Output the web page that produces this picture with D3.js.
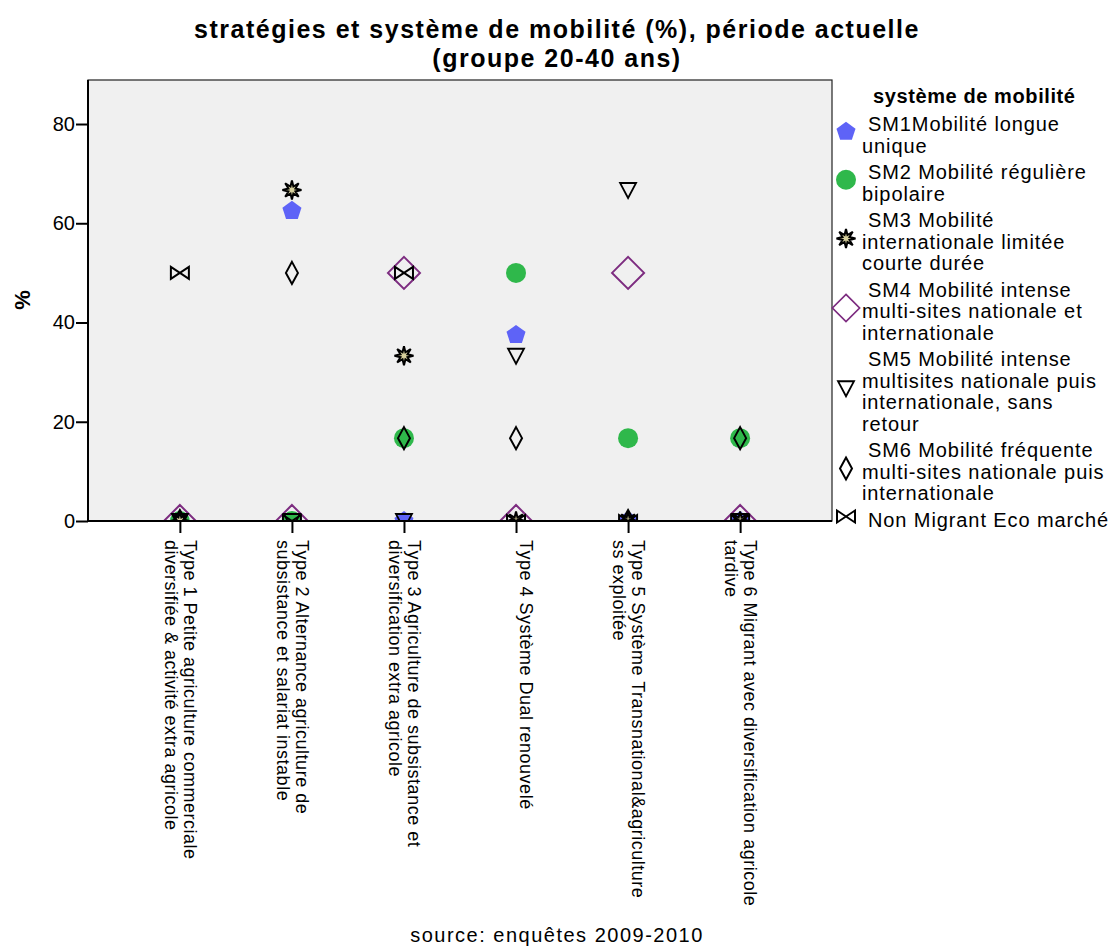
<!DOCTYPE html>
<html><head><meta charset="utf-8">
<script src="https://cdn.jsdelivr.net/npm/d3@7"></script>
<style>
body{margin:0;background:#fff}
text{font-family:"Liberation Sans",Arial,sans-serif;fill:#000}
</style>
</head><body>
<svg id="chart" width="1112" height="946"></svg>
<script>
// ---------- data ----------
const categories = ["Type1","Type2","Type3","Type4","Type5","Type6"];
const categoryLabels = [
  ["Type 1 Petite agriculture commerciale","diversifiée & activité extra agricole"],
  ["Type 2 Alternance agriculture de","subsistance et salariat instable"],
  ["Type 3 Agriculture de subsistance et","diversification extra agricole"],
  ["Type 4 Système Dual renouvelé"],
  ["Type 5 Système Transnational&agriculture","ss exploitée"],
  ["Type 6 Migrant avec diversification agricole","tardive"]
];
const seriesKeys = ["SM1","SM2","SM3","SM4","SM5","SM6","NM"];
const seriesLabels = [
  ["SM1Mobilité longue","unique"],
  ["SM2 Mobilité régulière","bipolaire"],
  ["SM3 Mobilité","internationale limitée","courte durée"],
  ["SM4 Mobilité intense","multi-sites nationale et","internationale"],
  ["SM5 Mobilité intense","multisites nationale puis","internationale, sans","retour"],
  ["SM6 Mobilité fréquente","multi-sites nationale puis","internationale"],
  ["Non Migrant Eco marché"]
];
const sm1 = [0, 62.5, 0, 37.5, 0, 0];
const sm2 = [0, 0, 16.7, 50, 16.7, 16.7];
const sm3 = [0, 66.7, 33.3, 0, 0, 0];
const sm4 = [0, 0, 50, 0, 50, 0];
const sm5 = [0, 0, 0, 33.3, 66.7, 0];
const sm6 = [0, 50, 16.7, 16.7, 0, 16.7];
const nonMigrant = [50, 0, 50, 0, 0, 0];
const seriesValues = [sm1, sm2, sm3, sm4, sm5, sm6, nonMigrant];
const yTicks = [0, 20, 40, 60, 80];
const titleLines = ["stratégies et système de mobilité (%), période actuelle","(groupe 20-40 ans)"];
const yLabel = "%";
const legendTitle = "système de mobilité";
const sourceText = "source: enquêtes 2009-2010";

// ---------- layout ----------
const svg = d3.select("#chart");
const P = {left: 88, right: 832, top: 80, bottom: 521};
const x = d3.scalePoint().domain(categories).range([P.left, P.right]).padding(0.82);
const y = d3.scaleLinear().domain([0, 88.87]).range([P.bottom, P.top]);

// ---------- symbols ----------
function poly(pts){ return "M" + pts.map(p => p.join(",")).join("L") + "Z"; }
const symbolDefs = {
  SM1: {d: poly(d3.range(5).map(k => { const a = (-90 + k*72) * Math.PI/180; return [10*Math.cos(a), 10*Math.sin(a)]; })),
        fill: "#5e63f7", stroke: "none", sw: 0},
  SM2: {d: "M-10,0A10,10 0 1,0 10,0A10,10 0 1,0 -10,0Z", fill: "#2fb84b", stroke: "none", sw: 0},
  SM3: {d: poly(d3.range(16).map(k => { const r = k%2 ? 3.8 : 9.5; const a = (-90 + k*22.5)*Math.PI/180; return [r*Math.cos(a), r*Math.sin(a)]; })),
        fill: "#d7d09d", stroke: "#000", sw: 2},
  SM4: {d: poly([[0,-16],[16,0],[0,16],[-16,0]]), fill: "none", stroke: "#7d2c80", sw: 2},
  SM5: {d: poly([[-8,-7],[8,-7],[0,8]]), fill: "none", stroke: "#000", sw: 1.8},
  SM6: {d: poly([[0,-11],[6,0],[0,11],[-6,0]]), fill: "none", stroke: "#000", sw: 2},
  NM:  {d: poly([[-9,-6],[9,6],[9,-6],[-9,6]]), fill: "none", stroke: "#000", sw: 2}
};
function drawSymbol(g, key){
  const s = symbolDefs[key];
  g.append("path").attr("d", s.d).attr("fill", s.fill)
    .attr("stroke", s.stroke).attr("stroke-width", s.sw).attr("stroke-linejoin", "miter");
}

// ---------- plot background ----------
svg.append("rect").attr("x", P.left).attr("y", P.top)
  .attr("width", P.right - P.left).attr("height", P.bottom - P.top)
  .attr("fill", "#f0f0f0").attr("stroke", "#222").attr("stroke-width", 1.2);

svg.append("clipPath").attr("id", "plotclip").append("rect")
  .attr("x", P.left).attr("y", P.top).attr("width", P.right - P.left).attr("height", P.bottom - P.top);

// ---------- markers ----------
const marks = svg.append("g").attr("clip-path", "url(#plotclip)");
seriesKeys.forEach((key, si) => {
  seriesValues[si].forEach((v, ci) => {
    const g = marks.append("g").attr("transform", `translate(${x(categories[ci])},${y(v)})`);
    drawSymbol(g, key);
  });
});

// ---------- axes ----------
const yAxis = svg.append("g").attr("transform", `translate(${P.left},0)`)
  .call(d3.axisLeft(y).tickValues(yTicks).tickSize(12).tickPadding(1).tickFormat(d3.format("d")));
yAxis.select(".domain").remove();
yAxis.selectAll(".tick line").attr("stroke", "#000").attr("stroke-width", 2);
yAxis.selectAll(".tick text").style("font-size", "20px").style("font-family", '"Liberation Sans",Arial,sans-serif').attr("fill", "#000");

const xAxis = svg.append("g").attr("transform", `translate(0,${P.bottom})`)
  .call(d3.axisBottom(x).tickSize(12).tickFormat(""));
xAxis.select(".domain").remove();
xAxis.selectAll(".tick line").attr("stroke", "#000").attr("stroke-width", 2);

// axis lines
svg.append("line").attr("x1", P.left).attr("x2", P.left).attr("y1", P.top).attr("y2", P.bottom + 1)
  .attr("stroke", "#000").attr("stroke-width", 2);
svg.append("line").attr("x1", P.left - 1).attr("x2", P.right).attr("y1", P.bottom).attr("y2", P.bottom)
  .attr("stroke", "#000").attr("stroke-width", 2);

// x labels (rotated)
categories.forEach((c, i) => {
  const g = svg.append("g").attr("transform", `translate(${x(c)},${P.bottom}) rotate(90)`);
  categoryLabels[i].forEach((line, li) => {
    g.append("text").attr("x", 19).attr("y", -4 + li * 19)
      .style("font-size", "18px").style("letter-spacing", "0.5px").text(line);
  });
});

// ---------- titles ----------
titleLines.forEach((t, i) => {
  svg.append("text").attr("x", 557).attr("y", 38 + i * 29).attr("text-anchor", "middle")
    .style("font-size", "25px").style("font-weight", "bold").style("letter-spacing", "1.5px").text(t);
});
svg.append("text").attr("transform", "translate(30,300) rotate(-90)").attr("text-anchor", "middle")
  .style("font-size", "22px").style("font-weight", "bold").text(yLabel);
svg.append("text").attr("x", 557).attr("y", 942).attr("text-anchor", "middle")
  .style("font-size", "20px").style("letter-spacing", "1.5px").text(sourceText);

// ---------- legend ----------
svg.append("text").attr("x", 873).attr("y", 103)
  .style("font-size", "20px").style("font-weight", "bold").style("letter-spacing", "0.6px").text(legendTitle);
let ly = 131;
const lh = 21.5;
seriesKeys.forEach((key, si) => {
  const lines = seriesLabels[si];
  lines.forEach((line, li) => {
    svg.append("text").attr("x", li === 0 ? 868 : 862).attr("y", ly + li * lh)
      .style("font-size", "20px").style("letter-spacing", "0.9px").text(line);
  });
  const symY = ly + (lines.length - 1) * lh / 2 - 10;
  const g = svg.append("g").attr("transform", `translate(846,${symY}) scale(${key === "SM4" ? 0.85 : 1})`);
  drawSymbol(g, key);
  ly += (lines.length - 1) * lh + 26.5;
});
</script>
</body></html>
